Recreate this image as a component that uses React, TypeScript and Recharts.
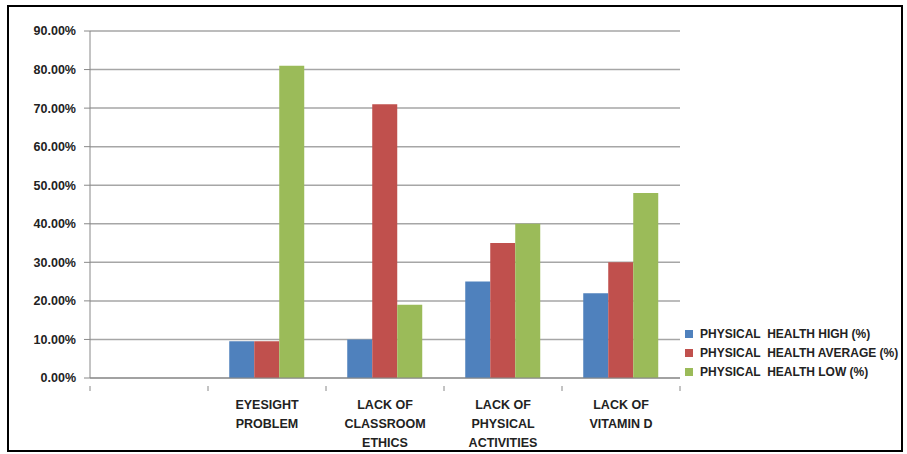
import { BarChart, Bar, XAxis, YAxis, CartesianGrid, Legend } from 'recharts'

const categories = ['', 'EYESIGHT PROBLEM', 'LACK OF CLASSROOM ETHICS', 'LACK OF PHYSICAL ACTIVITIES', 'LACK OF VITAMIN D']
const categoryLines = [[], ['EYESIGHT', 'PROBLEM'], ['LACK OF', 'CLASSROOM', 'ETHICS'], ['LACK OF', 'PHYSICAL', 'ACTIVITIES'], ['LACK OF', 'VITAMIN D']]
const highValues = [null, 9.5, 10, 25, 22]
const averageValues = [null, 9.5, 71, 35, 30]
const lowValues = [null, 81, 19, 40, 48]
const yTicks = [0, 10, 20, 30, 40, 50, 60, 70, 80, 90]

const series = [
  { key: 'high', name: 'PHYSICAL  HEALTH HIGH (%)', color: '#4F81BD' },
  { key: 'average', name: 'PHYSICAL  HEALTH AVERAGE (%)', color: '#C0504D' },
  { key: 'low', name: 'PHYSICAL  HEALTH LOW (%)', color: '#9BBB59' },
]

const data = categories.map((name, i) => ({
  name,
  high: highValues[i],
  average: averageValues[i],
  low: lowValues[i],
}))

const FONT = '"Liberation Sans", Arial, sans-serif'

// category label split over several lines, with tick marks on the band edges
function CategoryTick(props: any) {
  const { x, y, payload, index } = props
  const half = payload.offset ?? 0
  const lines = categoryLines[index] || []
  return (
    <g>
      <line x1={x - half} y1={y} x2={x - half} y2={y + 5} stroke="#888" />
      {index === categories.length - 1 && (
        <line x1={x + half} y1={y} x2={x + half} y2={y + 5} stroke="#888" />
      )}
      <text x={x} y={y + 23} textAnchor="middle" fontFamily={FONT} fontSize={12.5} fontWeight="bold" fill="#222">
        {lines.map((l: string, i: number) => (
          <tspan key={i} x={x} dy={i === 0 ? 0 : 19}>{l}</tspan>
        ))}
      </text>
    </g>
  )
}

function LegendBox() {
  return (
    <div style={{ fontFamily: FONT, fontSize: 12, fontWeight: 'bold', color: '#222', whiteSpace: 'pre' }}>
      {series.map((s) => (
        <div key={s.key} style={{ display: 'flex', alignItems: 'center', height: 19 }}>
          <span style={{ width: 8, height: 8, background: s.color, marginRight: 7, flexShrink: 0 }} />
          <span>{s.name}</span>
        </div>
      ))}
    </div>
  )
}

export default function App() {
  return (
    <div style={{ position: 'absolute', top: 5, left: 7, width: 892, height: 443, border: '2px solid #000', background: '#fff' }}>
      <BarChart
        width={892}
        height={443}
        data={data}
        margin={{ top: 24, right: 1, bottom: 0, left: 0 }}
        barCategoryGap="18%"
        barGap={0}
      >
        <CartesianGrid vertical={false} stroke="#A6A6A6" strokeWidth={1.5} />
        <XAxis
          dataKey="name"
          height={72}
          stroke="#888"
          tickLine={false}
          tick={<CategoryTick />}
          interval={0}
        />
        <YAxis
          width={81}
          domain={[0, 90]}
          ticks={yTicks}
          stroke="#888"
          tickSize={6}
          tickMargin={8}
          tickFormatter={(v: number) => `${v.toFixed(2)}%`}
          tick={{ fontFamily: FONT, fontSize: 12.5, fontWeight: 'bold', fill: '#222' }}
        />
        <Legend
          layout="vertical"
          align="right"
          verticalAlign="top"
          width={220}
          content={<LegendBox />}
          wrapperStyle={{ left: 676, top: 317, width: 220 }}
        />
        {series.map((s) => (
          <Bar key={s.key} dataKey={s.key} name={s.name} fill={s.color} isAnimationActive={false} />
        ))}
      </BarChart>
    </div>
  )
}
